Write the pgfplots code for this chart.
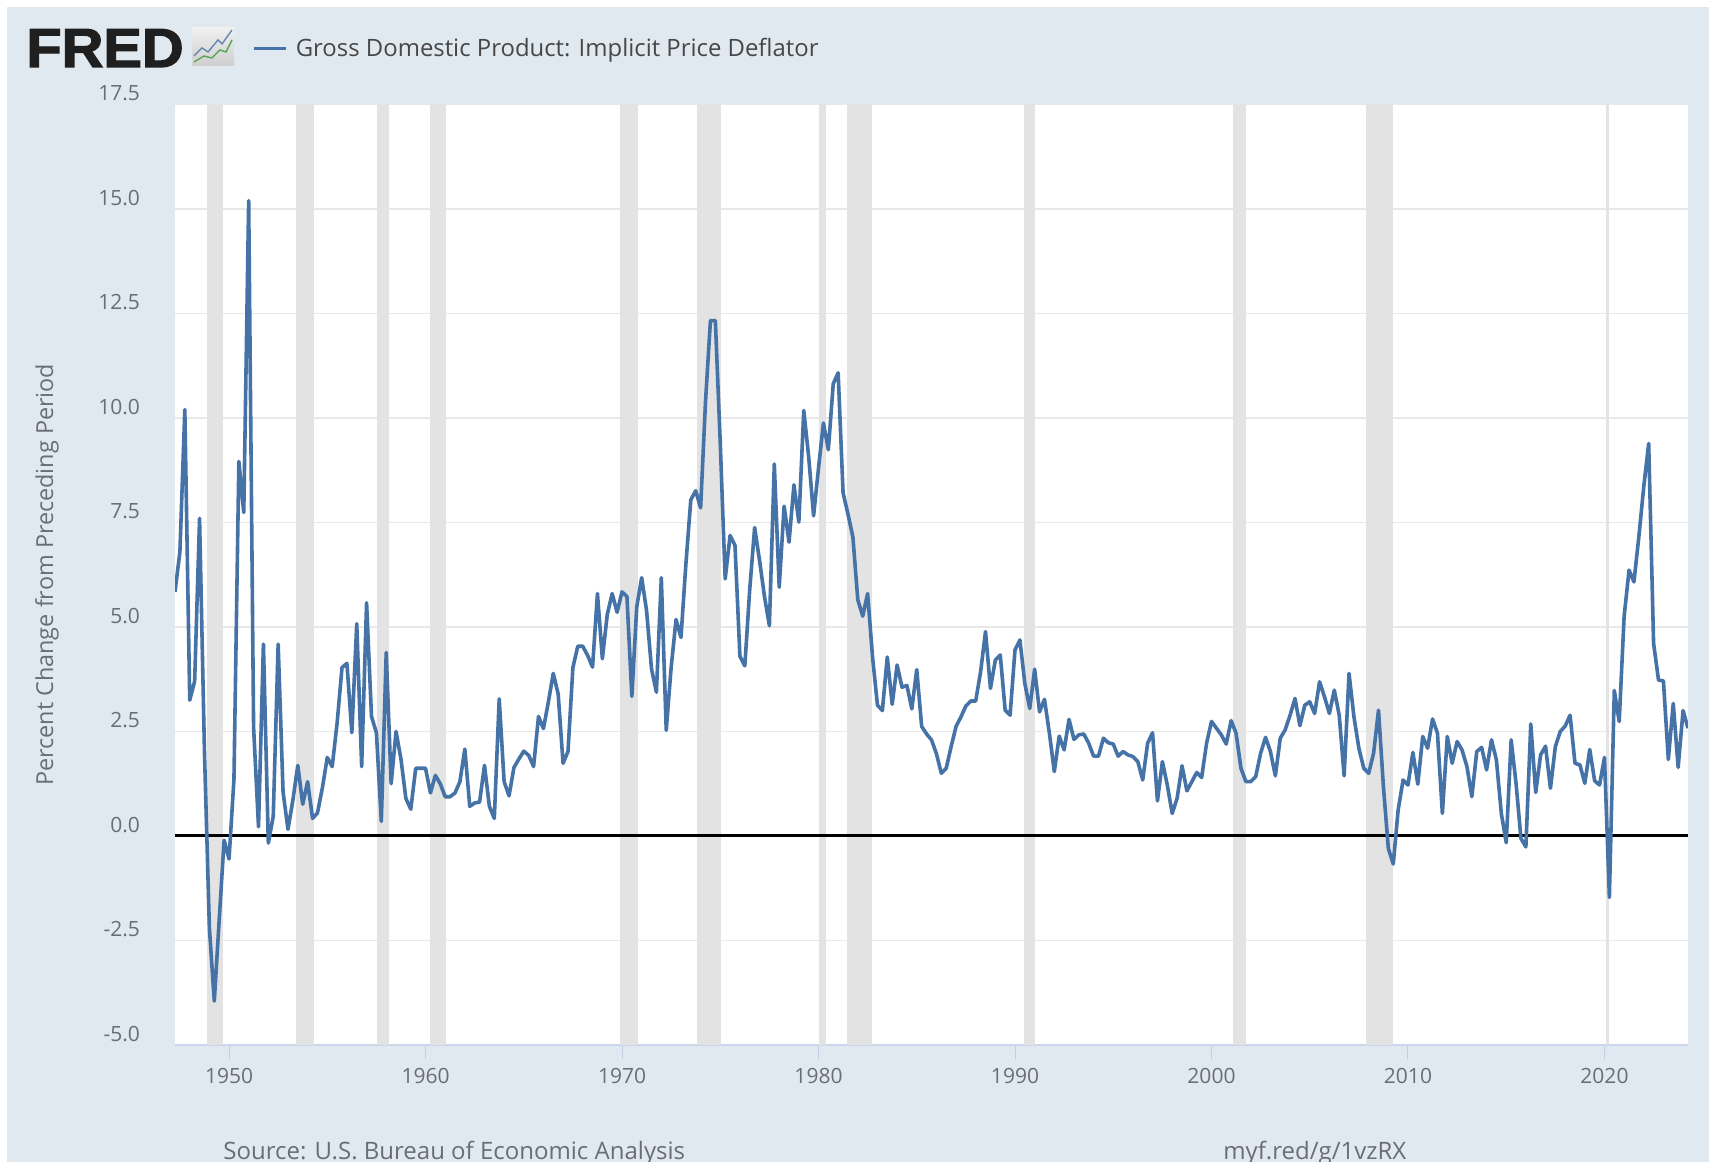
\documentclass[border=0pt]{standalone}
\usepackage{fontspec}
\usepackage{pgfplots}
\pgfplotsset{compat=1.18}
\setmainfont{Open Sans}
\newfontfamily\fredfont[BoldFeatures={FakeBold=2.2}]{Liberation Sans}
\definecolor{panel}{HTML}{E1E9F0}
\definecolor{band}{HTML}{E3E3E3}
\definecolor{series}{HTML}{4572A7}
\definecolor{labeltext}{HTML}{6A6E73}
\definecolor{gridc}{HTML}{E8E8E8}
\definecolor{axisc}{HTML}{CCD6EB}
\definecolor{tickc}{HTML}{C0D0E0}
\newcommand{\recession}[2]{\addplot[fill=band, draw=none, forget plot] coordinates {(#1,-5) (#1,17.5) (#2,17.5) (#2,-5)};}
\begin{document}
\begin{tikzpicture}
% 1 px of the reference = 0.5pt here
\path[use as bounding box] (0,0) rectangle (854.5pt,581pt);
\begin{scope}
\clip (0,0) rectangle (854.5pt,581pt);
\fill[panel] (3.5pt,0) rectangle (854.5pt,577.5pt);

% FRED logo and icon
\node[anchor=base west, inner sep=0pt, text=black!88] at (13pt,547.5pt) {\scalebox{1.05}[1]{\fontsize{27.5}{27.5}\fredfont\bfseries FRED}};
\shade[top color=gray!12, bottom color=gray!38] (96pt,548pt) rectangle (117pt,567pt);
\draw[series!85, line width=0.7pt] (97pt,553pt) -- (101pt,557pt) -- (104pt,555pt) -- (109pt,561pt) -- (111pt,559pt) -- (116pt,566pt);
\draw[green!45!black!65, line width=0.7pt] (97pt,550pt) -- (102pt,553pt) -- (106pt,552pt) -- (110pt,556pt) -- (113pt,555pt) -- (116pt,561pt);

% footer
\node[anchor=base west, inner sep=0pt, text=labeltext, font=\fontsize{12}{12}\selectfont] at (111.5pt,1pt) {Source: U.S. Bureau of Economic Analysis};
\node[anchor=base west, inner sep=0pt, text=labeltext, font=\fontsize{12}{12}\selectfont] at (611.5pt,1pt) {myf.red/g/1vzRX};
\end{scope}

\begin{axis}[
    at={(87.5pt,58.5pt)},
    anchor=south west,
    scale only axis,
    width=756.5pt,
    height=470.25pt,
    xmin=1947.25, xmax=2024.25,
    ymin=-5, ymax=17.5,
    axis background/.style={fill=white},
    axis x line*=bottom,
    axis y line*=left,
    y axis line style={draw=none},
    x axis line style={draw=axisc, line width=0.6pt},
    xtick={1950,1960,...,2020},
    ytick={-5,-2.5,...,17.5},
    tick pos=lower,
    tick align=outside,
    major tick length=7pt,
    ytick style={draw=none},
    xtick style={draw=tickc, line width=0.5pt},
    ymajorgrids,
    grid style={gridc, line width=0.6pt},
    /pgf/number format/assume math mode=true,
    xticklabel style={/pgf/number format/1000 sep={}, font=\fontsize{10.5}{10.5}\selectfont, text=labeltext, yshift=-1pt},
    yticklabel style={/pgf/number format/fixed, /pgf/number format/fixed zerofill, /pgf/number format/precision=1,
        font=\fontsize{10.5}{10.5}\selectfont, text=labeltext, anchor=east, yshift=5.5pt, xshift=-7pt},
    ylabel={Percent Change from Preceding Period},
    every axis y label/.style={at={(axis description cs:-0.0846,0.5)}, rotate=90, anchor=center,
        font=\fontsize{11.7}{11.7}\selectfont, text=labeltext},
    legend style={at={(axis description cs:0.0505,1.0595)}, anchor=west, draw=none, fill=none, inner sep=0pt,
        font=\fontsize{11.95}{11.95}\selectfont, text=black!72},
    legend image code/.code={\draw[#1, line cap=butt] (0cm,0cm) -- (16pt,0cm);},
    legend cell align=left,
  ]

  \recession{1948.88}{1949.69}
  \recession{1953.41}{1954.31}
  \recession{1957.54}{1958.15}
  \recession{1960.24}{1961.05}
  \recession{1969.91}{1970.81}
  \recession{1973.82}{1975.02}
  \recession{1980.01}{1980.40}
  \recession{1981.45}{1982.73}
  \recession{1990.48}{1991.03}
  \recession{2001.11}{2001.78}
  \recession{2007.84}{2009.23}
  \recession{2020.08}{2020.25}

  \addplot[black, line width=1.5pt, forget plot] coordinates {(1947.25,0) (2024.25,0)};

  \addplot[series, line width=1.8pt, line join=round, no markers] coordinates {
    (1947.25,5.84) (1947.50,6.8) (1947.75,10.2)
    (1948.00,3.25) (1948.25,3.7) (1948.50,7.6) (1948.75,2.0)
    (1949.00,-2.2) (1949.25,-3.95) (1949.50,-2.0) (1949.75,-0.1)
    (1950.00,-0.55) (1950.25,1.35) (1950.50,8.96) (1950.75,7.74)
    (1951.00,15.2) (1951.25,2.6) (1951.50,0.22) (1951.75,4.59)
    (1952.00,-0.17) (1952.25,0.47) (1952.50,4.59) (1952.75,1.05)
    (1953.00,0.16) (1953.25,0.86) (1953.50,1.69) (1953.75,0.76)
    (1954.00,1.3) (1954.25,0.42) (1954.50,0.55) (1954.75,1.15)
    (1955.00,1.88) (1955.25,1.66) (1955.50,2.7) (1955.75,4.03)
    (1956.00,4.13) (1956.25,2.47) (1956.50,5.08) (1956.75,1.66)
    (1957.00,5.58) (1957.25,2.86) (1957.50,2.47) (1957.75,0.35)
    (1958.00,4.39) (1958.25,1.25) (1958.50,2.5) (1958.75,1.84)
    (1959.00,0.9) (1959.25,0.64) (1959.50,1.62) (1959.75,1.62)
    (1960.00,1.62) (1960.25,1.03) (1960.50,1.45) (1960.75,1.25)
    (1961.00,0.94) (1961.25,0.94) (1961.50,1.03) (1961.75,1.3)
    (1962.00,2.08) (1962.25,0.71) (1962.50,0.79) (1962.75,0.81)
    (1963.00,1.69) (1963.25,0.71) (1963.50,0.42) (1963.75,3.28)
    (1964.00,1.3) (1964.25,0.96) (1964.50,1.64) (1964.75,1.84)
    (1965.00,2.03) (1965.25,1.93) (1965.50,1.66) (1965.75,2.86)
    (1966.00,2.57) (1966.25,3.2) (1966.50,3.89) (1966.75,3.4)
    (1967.00,1.74) (1967.25,2.02) (1967.50,4.03) (1967.75,4.54)
    (1968.00,4.54) (1968.25,4.32) (1968.50,4.04) (1968.75,5.8)
    (1969.00,4.24) (1969.25,5.3) (1969.50,5.8) (1969.75,5.35)
    (1970.00,5.84) (1970.25,5.73) (1970.50,3.34) (1970.75,5.48)
    (1971.00,6.18) (1971.25,5.39) (1971.50,4.0) (1971.75,3.44)
    (1972.00,6.18) (1972.25,2.53) (1972.50,4.03) (1972.75,5.18)
    (1973.00,4.75) (1973.25,6.5) (1973.50,8.04) (1973.75,8.26)
    (1974.00,7.85) (1974.25,10.4) (1974.50,12.33) (1974.75,12.33)
    (1975.00,9.4) (1975.25,6.15) (1975.50,7.19) (1975.75,6.95)
    (1976.00,4.3) (1976.25,4.07) (1976.50,5.9) (1976.75,7.38)
    (1977.00,6.59) (1977.25,5.73) (1977.50,5.03) (1977.75,8.9)
    (1978.00,5.95) (1978.25,7.89) (1978.50,7.03) (1978.75,8.4)
    (1979.00,7.51) (1979.25,10.18) (1979.50,9.07) (1979.75,7.66)
    (1980.00,8.8) (1980.25,9.88) (1980.50,9.24) (1980.75,10.82)
    (1981.00,11.08) (1981.25,8.21) (1981.50,7.7) (1981.75,7.15)
    (1982.00,5.65) (1982.25,5.26) (1982.50,5.8) (1982.75,4.28)
    (1983.00,3.13) (1983.25,3.0) (1983.50,4.28) (1983.75,3.15)
    (1984.00,4.09) (1984.25,3.56) (1984.50,3.6) (1984.75,3.04)
    (1985.00,3.98) (1985.25,2.62) (1985.50,2.44) (1985.75,2.3)
    (1986.00,1.97) (1986.25,1.5) (1986.50,1.62) (1986.75,2.14)
    (1987.00,2.62) (1987.25,2.85) (1987.50,3.11) (1987.75,3.23)
    (1988.00,3.23) (1988.25,3.93) (1988.50,4.89) (1988.75,3.53)
    (1989.00,4.21) (1989.25,4.33) (1989.50,3.01) (1989.75,2.89)
    (1990.00,4.45) (1990.25,4.69) (1990.50,3.65) (1990.75,3.05)
    (1991.00,3.99) (1991.25,2.97) (1991.50,3.27) (1991.75,2.46)
    (1992.00,1.54) (1992.25,2.39) (1992.50,2.06) (1992.75,2.79)
    (1993.00,2.31) (1993.25,2.42) (1993.50,2.44) (1993.75,2.22)
    (1994.00,1.91) (1994.25,1.91) (1994.50,2.34) (1994.75,2.23)
    (1995.00,2.2) (1995.25,1.91) (1995.50,2.02) (1995.75,1.94)
    (1996.00,1.9) (1996.25,1.78) (1996.50,1.34) (1996.75,2.22)
    (1997.00,2.47) (1997.25,0.84) (1997.50,1.78) (1997.75,1.22)
    (1998.00,0.54) (1998.25,0.9) (1998.50,1.68) (1998.75,1.08)
    (1999.00,1.3) (1999.25,1.52) (1999.50,1.4) (1999.75,2.22)
    (2000.00,2.74) (2000.25,2.58) (2000.50,2.42) (2000.75,2.2)
    (2001.00,2.76) (2001.25,2.46) (2001.50,1.62) (2001.75,1.3)
    (2002.00,1.3) (2002.25,1.42) (2002.50,1.98) (2002.75,2.36)
    (2003.00,2.02) (2003.25,1.44) (2003.50,2.34) (2003.75,2.54)
    (2004.00,2.89) (2004.25,3.29) (2004.50,2.64) (2004.75,3.13)
    (2005.00,3.21) (2005.25,2.93) (2005.50,3.69) (2005.75,3.33)
    (2006.00,2.93) (2006.25,3.49) (2006.50,2.89) (2006.75,1.44)
    (2007.00,3.89) (2007.25,2.85) (2007.50,2.1) (2007.75,1.62)
    (2008.00,1.5) (2008.25,1.98) (2008.50,3.01) (2008.75,1.18)
    (2009.00,-0.3) (2009.25,-0.67) (2009.50,0.62) (2009.75,1.34)
    (2010.00,1.22) (2010.25,2.0) (2010.50,1.24) (2010.75,2.38)
    (2011.00,2.1) (2011.25,2.8) (2011.50,2.46) (2011.75,0.54)
    (2012.00,2.38) (2012.25,1.74) (2012.50,2.26) (2012.75,2.06)
    (2013.00,1.66) (2013.25,0.94) (2013.50,2.02) (2013.75,2.12)
    (2014.00,1.58) (2014.25,2.3) (2014.50,1.82) (2014.75,0.54)
    (2015.00,-0.16) (2015.25,2.3) (2015.50,1.26) (2015.75,-0.06)
    (2016.00,-0.26) (2016.25,2.68) (2016.50,1.04) (2016.75,1.94)
    (2017.00,2.15) (2017.25,1.14) (2017.50,2.14) (2017.75,2.5)
    (2018.00,2.63) (2018.25,2.89) (2018.50,1.74) (2018.75,1.7)
    (2019.00,1.26) (2019.25,2.07) (2019.50,1.32) (2019.75,1.22)
    (2020.00,1.88) (2020.25,-1.47) (2020.50,3.48) (2020.75,2.74)
    (2021.00,5.25) (2021.25,6.36) (2021.50,6.08) (2021.75,7.16)
    (2022.00,8.36) (2022.25,9.39) (2022.50,4.61) (2022.75,3.73)
    (2023.00,3.71) (2023.25,1.83) (2023.50,3.17) (2023.75,1.64)
    (2024.00,3.0) (2024.25,2.58)
  };
  \addlegendentry{\hspace{2.2pt}Gross Domestic Product: Implicit Price Deflator}

\end{axis}
\end{tikzpicture}
\end{document}
